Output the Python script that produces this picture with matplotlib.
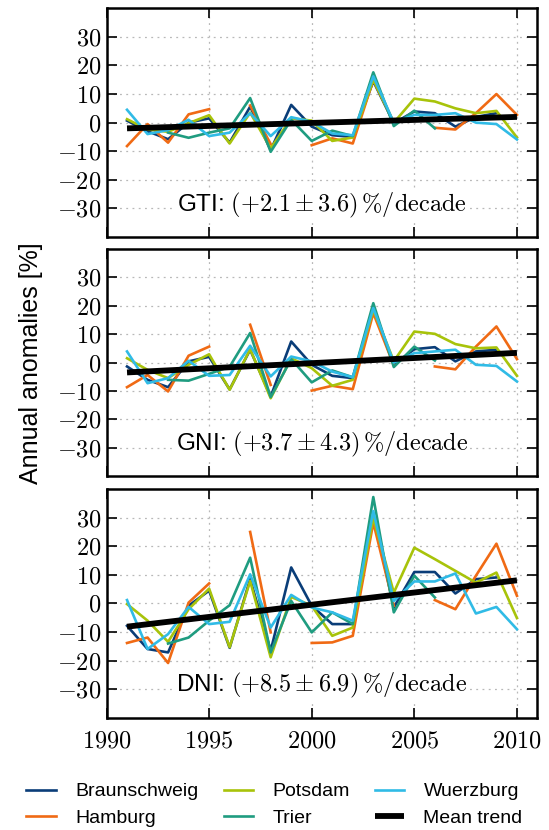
import numpy as np
import matplotlib
matplotlib.use("Agg")
import matplotlib.pyplot as plt
from matplotlib.ticker import FuncFormatter, MultipleLocator

plt.rcParams['font.family'] = ['Liberation Sans', 'DejaVu Sans']
plt.rcParams['mathtext.fontset'] = 'cm'

nan = np.nan
years = np.arange(1991, 2011)

stations = ['Braunschweig', 'Hamburg', 'Potsdam', 'Trier', 'Wuerzburg']
colors = ['#0a3d78', '#f06a14', '#a8c30a', '#1f9c80', '#30bbe6']

# annual anomalies [%], one list per station
gti_braunschweig = [0.7, -3.0, -5.8, 0.0, 1.5, -7.0, 5.6, -9.6, 6.2, -1.4, -4.4, -5.0, 14.5, -0.2, 3.9, 3.3, -1.4, 2.0, 3.3, nan]
gti_hamburg = [-8.2, -0.5, -7.0, 2.9, 4.7, nan, 6.0, -7.5, nan, -7.9, -5.5, -7.3, 15.0, 0.0, nan, -1.8, -2.4, 3.3, 10.0, 2.7]
gti_potsdam = [1.2, -2.4, -3.2, -0.2, 2.6, -7.3, 3.5, -9.0, 1.5, 0.7, -6.4, -5.2, 15.0, 0.0, 8.4, 7.4, 5.0, 3.3, 4.1, -5.2]
gti_trier = [nan, nan, -3.5, -5.3, -3.5, -2.0, 8.6, -10.2, 1.0, -6.4, -2.8, -4.7, 17.6, -1.2, 4.2, -2.0, nan, nan, nan, nan]
gti_wuerzburg = [4.5, -4.0, -2.6, 1.0, -4.7, -3.5, 3.3, -4.7, 1.9, 0.3, -3.8, -4.4, 16.2, 0.0, 2.7, 2.7, 3.3, 0.0, -0.5, -5.9]

gni_braunschweig = [-1.4, -6.1, -8.7, 0.4, 2.0, -9.5, 4.5, -12.0, 7.4, -0.8, -4.7, -5.5, 18.8, -0.8, 4.7, 5.4, 0.4, 3.9, 4.5, nan]
gni_hamburg = [-8.7, -4.4, -10.2, 2.4, 5.6, nan, 13.3, -7.9, nan, -9.9, -8.2, -9.4, 17.4, -1.0, nan, -1.4, -2.4, 5.6, 12.7, 1.2]
gni_potsdam = [1.5, -2.6, -5.5, -0.8, 2.9, -9.6, 4.7, -12.6, 1.5, -2.0, -8.2, -6.1, 18.6, 0.5, 10.9, 10.1, 6.5, 5.0, 5.3, -4.7]
gni_trier = [nan, nan, -6.1, -6.4, -4.0, -1.5, 10.4, -12.2, 1.2, -7.0, -2.8, -5.2, 20.9, -1.6, 5.6, 0.7, nan, nan, nan, nan]
gni_wuerzburg = [3.9, -7.3, -5.5, 0.6, -4.7, -4.4, 5.9, -4.9, 2.1, 0.4, -3.2, -5.2, 19.2, 0.0, 3.3, 3.9, 4.5, -0.8, -1.2, -6.7]

dni_braunschweig = [-7.8, -15.9, -17.1, -0.8, 4.5, -15.5, 8.5, -16.5, 12.6, -0.8, -7.2, -7.2, 31.2, -1.4, 11.0, 11.0, 3.5, 8.5, 9.1, nan]
dni_hamburg = [-13.8, -11.9, -20.8, 0.3, 7.0, nan, 25.0, -10.1, nan, -13.8, -13.6, -11.3, 28.3, -0.8, nan, 1.2, -2.0, 9.7, 20.9, 2.7]
dni_potsdam = [-0.2, -6.0, -13.4, -2.0, 5.2, -15.3, 7.9, -18.8, 2.3, -0.8, -11.3, -8.4, 30.0, 3.8, 19.5, 15.5, 11.4, 7.3, 10.8, -5.1]
dni_trier = [nan, nan, -14.0, -11.9, -6.0, -0.6, 16.0, -17.1, 0.9, -10.1, -3.1, -7.2, 37.2, -3.1, 9.7, 2.1, nan, nan, nan, nan]
dni_wuerzburg = [1.2, -15.9, -10.7, -1.2, -7.2, -6.4, 10.2, -8.4, 3.0, -1.4, -3.1, -6.0, 32.3, 0.9, 7.7, 7.7, 10.5, -3.5, -1.2, -9.0]

panel_names = ['GTI', 'GNI', 'DNI']
panel_data = [
    [gti_braunschweig, gti_hamburg, gti_potsdam, gti_trier, gti_wuerzburg],
    [gni_braunschweig, gni_hamburg, gni_potsdam, gni_trier, gni_wuerzburg],
    [dni_braunschweig, dni_hamburg, dni_potsdam, dni_trier, dni_wuerzburg],
]
trend_rate = ['+2.1', '+3.7', '+8.5']
trend_err = ['3.6', '4.3', '6.9']
trend_start = [-2.0, -3.5, -8.1]   # mean trend value in 1991
trend_end = [2.0, 3.4, 8.1]        # mean trend value in 2010

fig = plt.figure(figsize=(5.49, 8.30), dpi=100)
left, right = 0.194, 0.979
panel_bounds = [(0.7145, 0.990), (0.4265, 0.700), (0.135, 0.4108)]

mformat = FuncFormatter(lambda v, pos: r'$%d$' % v)

axes = []
for i, (bot, top) in enumerate(panel_bounds):
    ax = fig.add_axes([left, bot, right - left, top - bot])
    axes.append(ax)
    for name, col, vals in zip(stations, colors, panel_data[i]):
        ax.plot(years, vals, color=col, lw=1.9, label=name)
    ax.plot([years[0], years[-1]], [trend_start[i], trend_end[i]],
            color='black', lw=4.2, solid_capstyle='butt', label='Mean trend', zorder=5)

    ax.set_xlim(1990, 2011)
    ax.set_ylim(-40, 40)
    ax.xaxis.set_major_locator(MultipleLocator(5))
    ax.set_yticks([-30, -20, -10, 0, 10, 20, 30])
    ax.yaxis.set_major_formatter(mformat)
    ax.xaxis.set_major_formatter(mformat)
    ax.grid(True, color='#b8b8b8', linestyle=(0, (1.5, 3.5)), lw=0.9)
    ax.tick_params(direction='in', length=7, width=1.2, top=True, right=True,
                   labelsize=17.5)
    ax.tick_params(axis='x', pad=9)
    if i < 2:
        ax.tick_params(labelbottom=False)
    for sp in ax.spines.values():
        sp.set_linewidth(1.8)

    label = panel_names[i] + r': $(%s \pm %s)\,\mathrm{\%%/decade}$' % (trend_rate[i], trend_err[i])
    ax.text(0.5, 0.14, label, transform=ax.transAxes, ha='center', va='center',
            fontsize=17.5, zorder=6,
            bbox=dict(facecolor='white', edgecolor='none', pad=1.0))

fig.text(0.056, 0.563, 'Annual anomalies [%]', rotation=90, ha='center',
         va='center', fontsize=18)

handles, labels = axes[0].get_legend_handles_labels()
fig.legend(handles, labels, loc='upper center', bbox_to_anchor=(0.5, 0.078),
           ncol=3, frameon=False, fontsize=14, handlelength=1.5,
           handletextpad=1.0, columnspacing=1.3, labelspacing=0.45)

fig.savefig('out.png', dpi=100)
